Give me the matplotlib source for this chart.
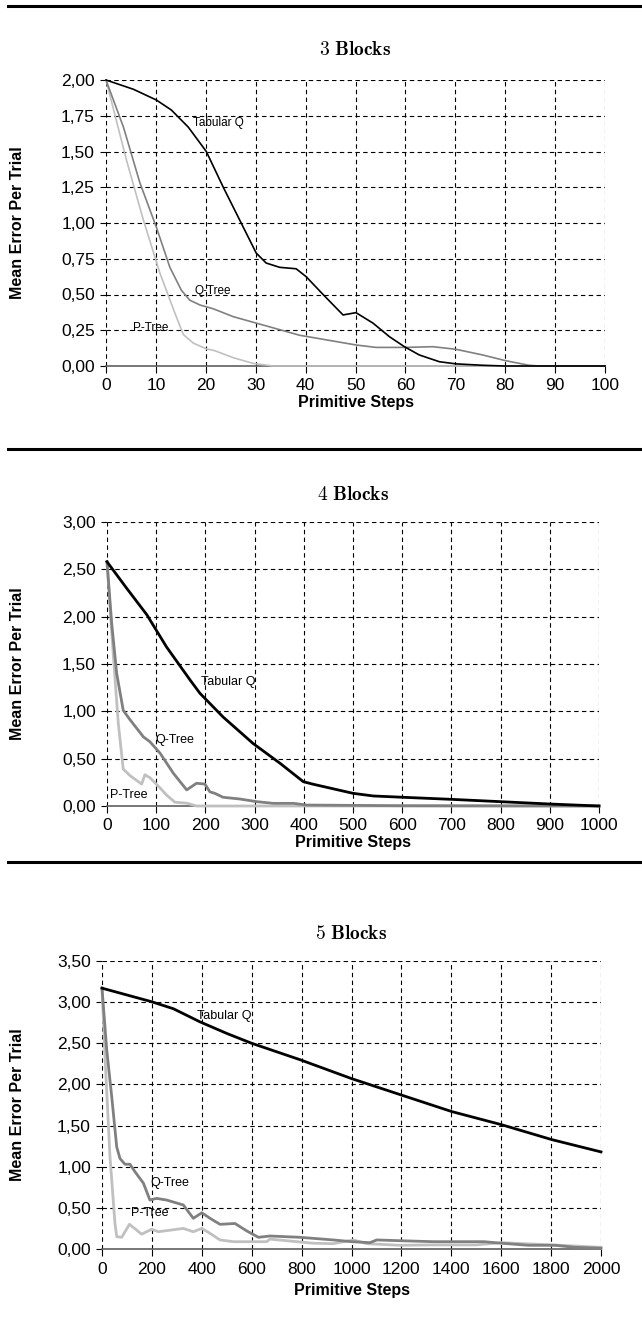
import matplotlib
matplotlib.use("Agg")
import matplotlib.pyplot as plt
from matplotlib.lines import Line2D
from matplotlib.ticker import FuncFormatter, MultipleLocator

plt.rcParams['font.family'] = ['Liberation Sans', 'DejaVu Sans']
plt.rcParams['mathtext.fontset'] = 'cm'

# 3 blocks
b3_tab_x = [0, 5.5, 10.1, 13.1, 16.5, 20.1, 23.5, 26.8, 30.1, 32.1, 34.8, 38.1, 40.1, 43.5, 47.5, 50.1,
            53.5, 56.8, 59.8, 62.8, 66.8, 70.1, 75.5, 80, 100]
b3_tab_y = [2.0, 1.935, 1.86, 1.79, 1.67, 1.50, 1.25, 1.02, 0.79, 0.72, 0.69, 0.68, 0.625, 0.50, 0.357, 0.373,
            0.30, 0.205, 0.135, 0.077, 0.03, 0.015, 0.005, 0.0, 0.0]
b3_qt_x = [0, 3.5, 6.8, 10.1, 12.8, 15.1, 16.8, 18.8, 21.5, 25.5, 30.1, 38.8, 50.1, 54.1, 60.1, 65.5,
           70.1, 75.5, 80.1, 84.8, 86.8, 100]
b3_qt_y = [2.0, 1.67, 1.28, 0.97, 0.69, 0.53, 0.46, 0.427, 0.40, 0.345, 0.30, 0.215, 0.147, 0.13, 0.13, 0.135,
           0.117, 0.077, 0.037, 0.005, 0.0, 0.0]
b3_pt_x = [0, 4.1, 7.5, 10.8, 13.8, 15.5, 17.5, 20.1, 21.8, 25.5, 29.5, 33.5, 100]
b3_pt_y = [2.0, 1.44, 1.02, 0.65, 0.37, 0.22, 0.16, 0.12, 0.107, 0.058, 0.018, 0.0, 0.0]

# 4 blocks
b4_tab_x = [0, 40, 81, 121, 169, 189, 236, 297, 352, 399, 419, 500, 541, 602, 697, 799, 900, 1000]
b4_tab_y = [2.58, 2.30, 2.02, 1.68, 1.33, 1.19, 0.94, 0.66, 0.45, 0.257, 0.23, 0.134, 0.106, 0.092, 0.071,
            0.046, 0.021, 0.0]
b4_qt_x = [0, 9.5, 19.7, 33, 47, 74, 87, 108, 135, 162, 182, 199, 209, 219, 236, 270, 304, 338, 379, 406,
           600, 1000]
b4_qt_y = [2.58, 1.93, 1.40, 1.01, 0.91, 0.73, 0.68, 0.557, 0.345, 0.17, 0.24, 0.232, 0.15, 0.134, 0.092,
           0.074, 0.046, 0.028, 0.028, 0.01, 0.003, 0.0]
b4_pt_x = [0, 13, 23, 33, 47, 70.5, 77, 87, 108, 121, 138, 162, 182, 1000]
b4_pt_y = [2.58, 1.58, 0.87, 0.39, 0.32, 0.232, 0.33, 0.30, 0.19, 0.116, 0.04, 0.03, 0.0, 0.0]

# 5 blocks
b5_tab_x = [0, 199, 286, 393, 500, 600, 794, 1001, 1201, 1402, 1602, 1802, 2000]
b5_tab_y = [3.17, 3.005, 2.92, 2.76, 2.62, 2.50, 2.30, 2.07, 1.87, 1.67, 1.51, 1.33, 1.18]
b5_qt_x = [0, 19, 39, 59, 72, 92, 112, 132, 166, 192, 219, 259, 326, 366, 400, 433, 473, 533, 580, 627,
           673, 794, 927, 1001, 1074, 1101, 1202, 1329, 1530, 1602, 1709, 1816, 1896, 2000]
b5_qt_y = [3.17, 2.42, 1.85, 1.24, 1.10, 1.03, 1.03, 0.94, 0.80, 0.595, 0.615, 0.595, 0.535, 0.373, 0.44,
           0.373, 0.30, 0.31, 0.22, 0.142, 0.158, 0.142, 0.11, 0.089, 0.077, 0.11, 0.10, 0.089, 0.089, 0.07,
           0.045, 0.045, 0.02, 0.01]
b5_pt_x = [0, 12, 32, 52, 59, 79, 110, 159, 199, 226, 326, 366, 400, 433, 473, 526, 660, 673, 847, 927,
           1008, 1061, 1195, 1329, 1500, 1602, 1803, 2000]
b5_pt_y = [3.17, 2.34, 1.12, 0.31, 0.15, 0.142, 0.30, 0.18, 0.24, 0.21, 0.25, 0.21, 0.25, 0.19, 0.11, 0.089,
           0.089, 0.12, 0.07, 0.065, 0.11, 0.065, 0.045, 0.05, 0.05, 0.077, 0.05, 0.02]

W, H = 642.0, 1324.0

# axes boxes in pixels: left, top, right, bottom
panels = [
    {'title': r'$3\ \mathbf{Blocks}$', 'box': (106, 80, 605, 366), 'title_y': 50, 'xl_y': 403,
     'xmax': 100, 'xstep': 10, 'ymax': 2.0, 'ystep': 0.25, 'lw': 1.2,
     'series': [(b3_pt_x, b3_pt_y), (b3_qt_x, b3_qt_y), (b3_tab_x, b3_tab_y)],
     'labels': [(17.5, 1.70, 'Tabular Q'), (17.8, 0.525, 'Q-Tree'), (5.5, 0.266, 'P-Tree')], 'fs': 8.5},
    {'title': r'$4\ \mathbf{Blocks}$', 'box': (107, 522, 599, 806), 'title_y': 495, 'xl_y': 842,
     'xmax': 1000, 'xstep': 100, 'ymax': 3.0, 'ystep': 0.5, 'lw': 2.0,
     'series': [(b4_pt_x, b4_pt_y), (b4_qt_x, b4_qt_y), (b4_tab_x, b4_tab_y)],
     'labels': [(192, 1.31, 'Tabular Q'), (97.6, 0.70, 'Q-Tree'), (6, 0.116, 'P-Tree')], 'fs': 9},
    {'title': r'$5\ \mathbf{Blocks}$', 'box': (102, 961, 601, 1249), 'title_y': 934, 'xl_y': 1290,
     'xmax': 2000, 'xstep': 200, 'ymax': 3.5, 'ystep': 0.5, 'lw': 2.0,
     'series': [(b5_pt_x, b5_pt_y), (b5_qt_x, b5_qt_y), (b5_tab_x, b5_tab_y)],
     'labels': [(380, 2.83, 'Tabular Q'), (192, 0.805, 'Q-Tree'), (115, 0.44, 'P-Tree')], 'fs': 9},
]
colors = ['#c0c0c0', '#808080', '#000000']

comma = FuncFormatter(lambda v, p: ('%.2f' % v).replace('.', ','))

fig = plt.figure(figsize=(W / 100, H / 100), dpi=100)

for p in panels:
    l, t, r, b = p['box']
    ax = fig.add_axes([l / W, 1 - b / H, (r - l) / W, (b - t) / H])
    for (xs, ys), c in zip(p['series'], colors):
        ax.plot(xs, ys, color=c, lw=p['lw'], solid_joinstyle='round', clip_on=False, zorder=3)
    for x, y, txt in p['labels']:
        ax.text(x, y, txt, fontsize=p['fs'], va='center', ha='left', zorder=4)
    ax.set_xlim(0, p['xmax'])
    ax.set_ylim(0, p['ymax'])
    ax.xaxis.set_major_locator(MultipleLocator(p['xstep']))
    ax.yaxis.set_major_locator(MultipleLocator(p['ystep']))
    ax.yaxis.set_major_formatter(comma)
    ax.grid(True, color='black', linestyle=(0, (4, 3)), linewidth=0.8)
    for s in ['top', 'right', 'left']:
        ax.spines[s].set_visible(False)
    ax.spines['bottom'].set_color('#606060')
    ax.spines['bottom'].set_linewidth(1.2)
    ax.tick_params(axis='x', direction='out', length=5, width=0.8, labelsize=12.5, pad=4)
    ax.tick_params(axis='y', direction='out', length=4, width=0.8, labelsize=12.5, pad=4)
    ax.set_xlabel('Primitive Steps', fontsize=11.5, fontweight='bold', va='center')
    ax.set_ylabel('Mean Error Per Trial', fontsize=11.5, fontweight='bold', va='center')
    ax.xaxis.set_label_coords(0.5, -(p['xl_y'] - b) / (b - t))
    ax.yaxis.set_label_coords(-(l - 18) / (r - l), 0.5)
    ax.text(0.5, (b - p['title_y']) / (b - t), p['title'], transform=ax.transAxes,
            fontsize=14, ha='center', va='center')

# separators between panels
for yp in [6, 449, 862]:
    yf = 1 - yp / H
    fig.add_artist(Line2D([8 / W, 1.0], [yf, yf], color='black', lw=2.2))

fig.savefig('out.png', dpi=100)
